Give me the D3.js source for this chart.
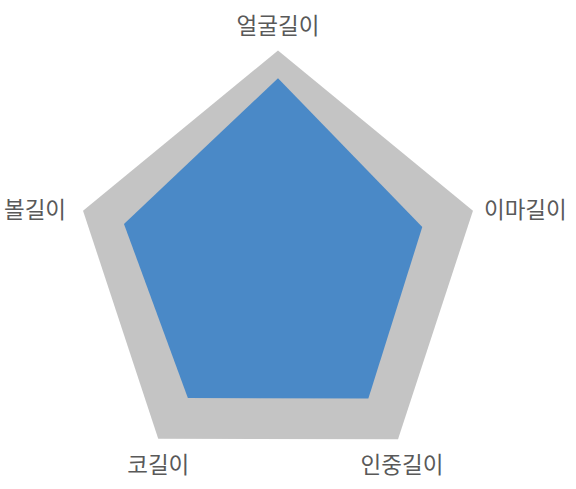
<!DOCTYPE html>
<html><head><meta charset="utf-8">
<script src="https://cdn.jsdelivr.net/npm/d3@7"></script>
<style>html,body{margin:0;padding:0;background:#fff;}</style>
</head><body>
<svg id="chart" width="576" height="489"></svg>
<script>
const categories = ['얼굴길이', '이마길이', '인중길이', '코길이', '볼길이'];
const outerValues = [109, 100, 99.6, 99.4, 100];
const seriesValues = [95.5, 74, 75, 74.8, 79];

const W = 576, H = 489, cx = 278, cy = 274;
const svg = d3.select('#chart');
const r = d3.scaleLinear().domain([0, 100]).range([0, 205]);
const angle = d3.scalePoint().domain(categories).range([0, 2 * Math.PI * (categories.length - 1) / categories.length]);

const g = svg.append('g').attr('transform', `translate(${cx},${cy})`);
const line = d3.lineRadial()
  .angle((d, i) => angle(categories[i]))
  .radius(d => r(d))
  .curve(d3.curveLinearClosed);

g.append('path').datum(outerValues).attr('d', line).attr('fill', '#c4c4c4');
g.append('path').datum(seriesValues).attr('d', line).attr('fill', '#4a89c7');

categories.forEach((c, i) => {
  const a = angle(c);
  const s = Math.sin(a), co = Math.cos(a);
  const rr = r(outerValues[i]);
  let x = rr * s, y = -rr * co;
  let anchor = 'middle', base = 'middle';
  if (Math.abs(s) < 0.1) { base = 'auto'; y -= 17; }
  else if (co < -0.5) { base = 'hanging'; y += 13; x += s > 0 ? 4 : 0; }
  else if (s > 0) { anchor = 'start'; x += 11; y += 1; }
  else { anchor = 'end'; x -= 17; y += 1; }
  g.append('text')
    .attr('x', x).attr('y', y)
    .attr('text-anchor', anchor)
    .attr('dominant-baseline', base)
    .attr('font-family', '"Noto Sans CJK KR", "Noto Sans", sans-serif')
    .attr('font-size', 22.5)
    .attr('fill', '#595959')
    .text(c);
});
</script>
</body></html>
